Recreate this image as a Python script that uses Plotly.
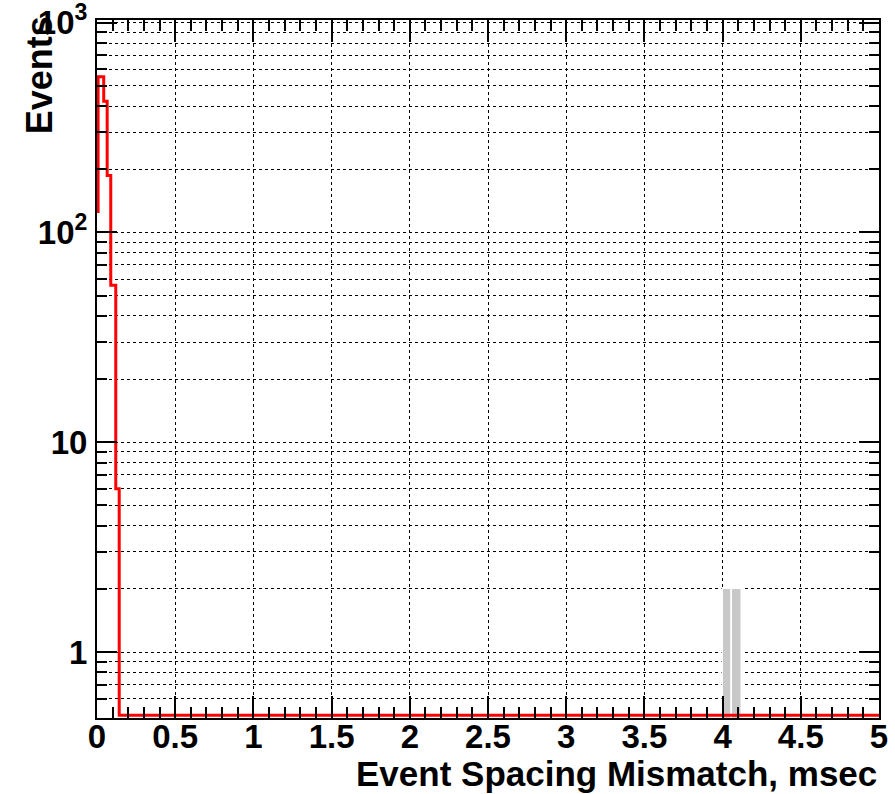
import plotly.graph_objects as go
import numpy as np

# ---- data ----
# red histogram: bin edges (msec) and counts
red_edges = [0.0, 0.007, 0.043, 0.065, 0.088, 0.12, 0.142, 5.0]
red_counts = [126, 553, 422, 187, 56, 6, 0]

# gray histogram: bin edges (msec) and counts
gray_edges = [4.0, 4.0625, 4.125]
gray_counts = [2, 2]

x_tick_vals = [0, 0.5, 1, 1.5, 2, 2.5, 3, 3.5, 4, 4.5, 5]
x_tick_text = ["0", "0.5", "1", "1.5", "2", "2.5", "3", "3.5", "4", "4.5", "5"]
y_tick_vals = [1, 10, 100, 1000]
y_tick_text = ["1", "10", "10<sup>2</sup>", "10<sup>3</sup>"]

x_title = "Event Spacing Mismatch, msec"
y_title = "Events"

Y_MIN, Y_MAX = 0.485, 1030
ZERO_LEVEL = 0.5  # where empty bins are drawn on the log axis

# ---- build step outline for red histogram ----
sx, sy = [], []
for i, c in enumerate(red_counts):
    v = c if c > 0 else ZERO_LEVEL
    sx += [red_edges[i], red_edges[i + 1]]
    sy += [v, v]

gray_centers = [(gray_edges[i] + gray_edges[i + 1]) / 2 for i in range(len(gray_counts))]
gray_widths = [gray_edges[i + 1] - gray_edges[i] for i in range(len(gray_counts))]

# minor log ticks / grid
y_minor = []
for dec in [0.1, 1, 10, 100]:
    for k in range(2, 10):
        v = k * dec
        if 0.55 < v < 1000:
            y_minor.append(v)

FONT = "Liberation Sans, Arial, Helvetica, sans-serif"

fig = go.Figure()
fig.add_trace(go.Bar(
    x=gray_centers, y=gray_counts, width=gray_widths,
    marker=dict(color="#c8c8c8", line=dict(color="white", width=1.5)),
    showlegend=False,
))
fig.add_trace(go.Scatter(
    x=sx, y=sy, mode="lines",
    line=dict(color="#ff0000", width=3, shape="linear"),
    showlegend=False,
))

axis_common = dict(
    showline=True, linecolor="black", linewidth=2, mirror="allticks",
    ticks="inside", tickcolor="black", tickwidth=1.5,
    showgrid=True, gridcolor="black", gridwidth=1, griddash="dot",
    zeroline=False, automargin=False, ticklabeloverflow="allow",
    tickfont=dict(family=FONT, size=33, color="black", weight="bold"),
)

fig.update_xaxes(
    range=[0, 5], tickmode="array", tickvals=x_tick_vals, ticktext=x_tick_text,
    ticklen=22, ticklabelstandoff=-12,
    minor=dict(dtick=0.1, tick0=0, ticks="inside", ticklen=11, tickwidth=1.5,
               tickcolor="black", showgrid=False),
    **axis_common,
)
fig.update_yaxes(
    type="log", range=[np.log10(Y_MIN), np.log10(Y_MAX)],
    tickmode="array", tickvals=y_tick_vals, ticktext=y_tick_text,
    ticklen=20, ticklabelstandoff=1,
    minor=dict(tickmode="array", tickvals=y_minor, ticks="inside", ticklen=10,
               tickwidth=1.5, tickcolor="black", showgrid=True,
               gridcolor="black", gridwidth=1, griddash="dot"),
    **axis_common,
)

fig.add_annotation(
    text=x_title, xref="paper", yref="paper", x=1.0, y=-0.079,
    xanchor="right", yanchor="middle", showarrow=False,
    font=dict(family=FONT, size=35, color="black", weight="bold"),
)
fig.add_annotation(
    text=y_title, xref="paper", yref="paper", x=-0.073, y=1.008,
    xanchor="center", yanchor="top", textangle=-90, showarrow=False,
    font=dict(family=FONT, size=36, color="black", weight="bold"),
)

fig.update_layout(
    width=895, height=794,
    margin=dict(l=97, r=16, t=20, b=76),
    paper_bgcolor="white", plot_bgcolor="white",
    bargap=0,
    font=dict(family=FONT, color="black"),
)

# remove the default page margin so the 895x794 figure fills the window
fig.write_html(
    "out.html",
    config={"displayModeBar": False},
    post_script="document.body.style.margin='0';"
                "document.body.style.overflow='hidden';"
                "document.documentElement.style.overflow='hidden';",
)
